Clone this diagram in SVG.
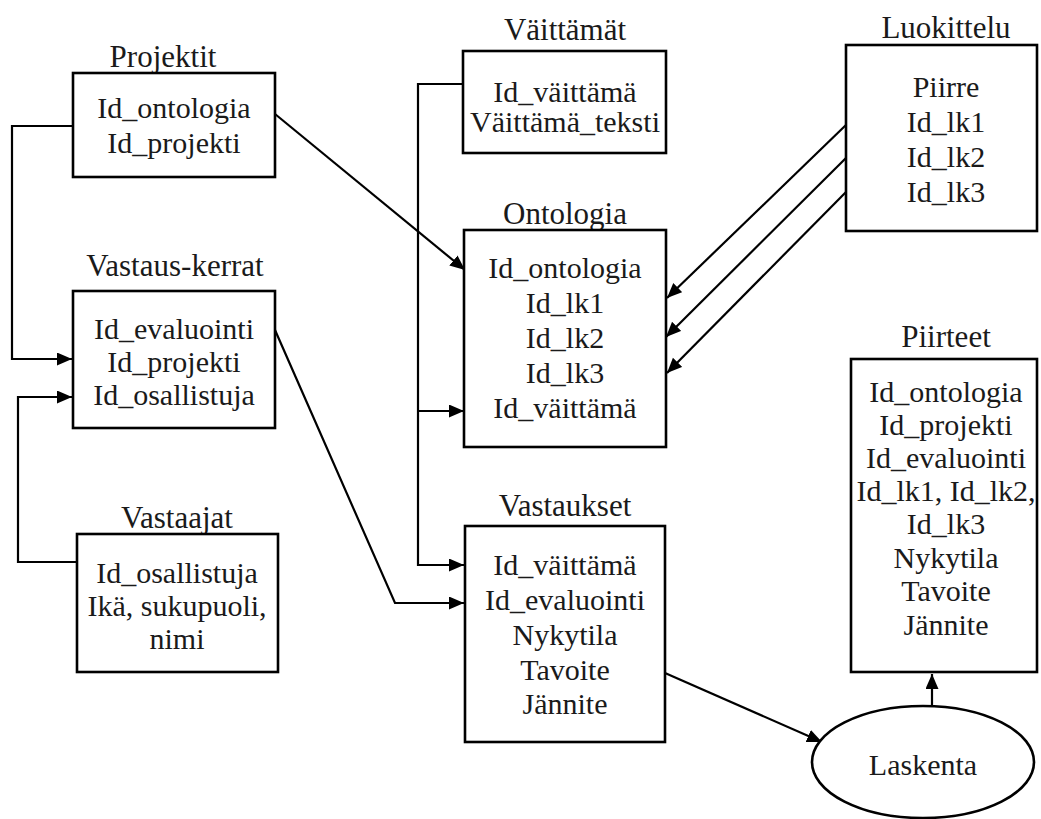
<svg xmlns="http://www.w3.org/2000/svg" width="1041" height="819" viewBox="0 0 1041 819">
<style>
text{font-family:"Liberation Serif","Times New Roman",serif;font-size:30px;fill:#1a1a1a;text-anchor:middle}
.t{font-size:31px}
.box{fill:#fff;stroke:#000;stroke-width:2.6}
.ln{fill:none;stroke:#000;stroke-width:2.2}
</style>
<defs>
<marker id="ah" markerUnits="userSpaceOnUse" markerWidth="16" markerHeight="14" refX="15" refY="6.5" orient="auto">
<path d="M0,0 L15,6.5 L0,13 z" fill="#000"/>
</marker>
</defs>
<rect width="1041" height="819" fill="#fff"/>
<g id="connectors">
<path class="ln" d="M73,126 H12 V359 H72" marker-end="url(#ah)"/>
<path class="ln" d="M77,562 H18 V397 H72" marker-end="url(#ah)"/>
<path class="ln" d="M275,114 L465,270" marker-end="url(#ah)"/>
<path class="ln" d="M463,84 H418 V565 H464" marker-end="url(#ah)"/>
<path class="ln" d="M418,411 H464" marker-end="url(#ah)"/>
<path class="ln" d="M275,330 L395,603 H464" marker-end="url(#ah)"/>
<path class="ln" d="M847,124 L667,298" marker-end="url(#ah)"/>
<path class="ln" d="M847,157 L666,337" marker-end="url(#ah)"/>
<path class="ln" d="M847,191 L667,373" marker-end="url(#ah)"/>
<path class="ln" d="M665,673 L822,742" marker-end="url(#ah)"/>
<path class="ln" d="M932,706 V674" marker-end="url(#ah)"/>
</g>
<g id="projektit">
<text class="t" x="163" y="67">Projektit</text>
<rect class="box" x="73" y="73" width="202" height="104"/>
<text x="174" y="118">Id_ontologia</text>
<text x="174" y="153">Id_projekti</text>
</g>
<g id="vastauskerrat">
<text class="t" x="175" y="276">Vastaus-kerrat</text>
<rect class="box" x="73" y="291" width="202" height="137"/>
<text x="174" y="339">Id_evaluointi</text>
<text x="174" y="372">Id_projekti</text>
<text x="174" y="405">Id_osallistuja</text>
</g>
<g id="vastaajat">
<text class="t" x="177" y="528">Vastaajat</text>
<rect class="box" x="77" y="534" width="201" height="138"/>
<text x="177" y="583">Id_osallistuja</text>
<text x="177" y="616">Ikä, sukupuoli,</text>
<text x="177" y="649">nimi</text>
</g>
<g id="vaittamat">
<text class="t" x="565" y="40">Väittämät</text>
<rect class="box" x="463" y="51" width="203" height="102"/>
<text x="565" y="102">Id_väittämä</text>
<text x="565" y="132">Väittämä_teksti</text>
</g>
<g id="ontologia">
<text class="t" x="565" y="224">Ontologia</text>
<rect class="box" x="464" y="230" width="202" height="217"/>
<text x="565" y="278">Id_ontologia</text>
<text x="565" y="313">Id_lk1</text>
<text x="565" y="348">Id_lk2</text>
<text x="565" y="383">Id_lk3</text>
<text x="565" y="418">Id_väittämä</text>
</g>
<g id="vastaukset">
<text class="t" x="565" y="516">Vastaukset</text>
<rect class="box" x="465" y="526" width="200" height="216"/>
<text x="565" y="575">Id_väittämä</text>
<text x="565" y="610">Id_evaluointi</text>
<text x="565" y="645">Nykytila</text>
<text x="565" y="680">Tavoite</text>
<text x="565" y="714">Jännite</text>
</g>
<g id="luokittelu">
<text class="t" x="946" y="38">Luokittelu</text>
<rect class="box" x="846" y="45" width="191" height="186"/>
<text x="946" y="97">Piirre</text>
<text x="946" y="132">Id_lk1</text>
<text x="946" y="167">Id_lk2</text>
<text x="946" y="202">Id_lk3</text>
</g>
<g id="piirteet">
<text class="t" x="946" y="347">Piirteet</text>
<rect class="box" x="851" y="359" width="186" height="313"/>
<text x="946" y="402">Id_ontologia</text>
<text x="946" y="435">Id_projekti</text>
<text x="946" y="468">Id_evaluointi</text>
<text x="946" y="501">Id_lk1, Id_lk2,</text>
<text x="946" y="534">Id_lk3</text>
<text x="946" y="568">Nykytila</text>
<text x="946" y="601">Tavoite</text>
<text x="946" y="635">Jännite</text>
</g>
<g id="laskenta">
<ellipse class="box" cx="923" cy="762" rx="111" ry="56"/>
<text x="923" y="775">Laskenta</text>
</g>
</svg>
